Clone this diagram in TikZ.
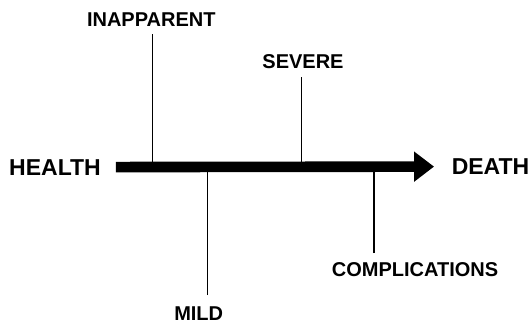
\documentclass[tikz,border=0pt]{standalone}
\usepackage{fontspec}
\setmainfont{Liberation Sans}
\usetikzlibrary{arrows.meta}
\begin{document}
\begin{tikzpicture}[x=1pt,y=-1pt,
  stage/.style={font=\fontsize{20}{24}\selectfont\bfseries, inner sep=0pt, anchor=base},
  endstate/.style={font=\fontsize{23}{27}\selectfont\bfseries, inner sep=0pt, anchor=base},
  course/.style={line width=10.6pt,
    -{Triangle[length=20pt,width=29pt]},
    shorten <=15pt, shorten >=17.5pt},
  tick/.style={line width=1.1pt}]
  \useasboundingbox (0,0) rectangle (529,324);

  % end states
  \node[endstate] (health) at (55,175) {HEALTH};
  \node[endstate] (death) at (490.5,174.5) {DEATH};

  % main course of the disease
  \draw[course] (health.east) -- (death.west);

  % stage labels
  \node[stage] (inap) at (151.3,26) {INAPPARENT};
  \node[stage] (severe) at (303,68.5) {SEVERE};
  \node[stage] (mild) at (198.7,320.5) {MILD};
  \node[stage] (compl) at (415,276) {COMPLICATIONS};

  % where the stage lines meet the arrow
  \coordinate (onInap) at (152.3,161.7);
  \coordinate (onSevere) at (301.5,161.7);
  \coordinate (onMild) at (207.3,172.3);
  \coordinate (onCompl) at (374,172.3);

  % free ends of the stage lines, near the labels
  \coordinate (endInap) at (152.3,34);
  \coordinate (endSevere) at (301.5,77);
  \coordinate (endMild) at (207.3,295);
  \coordinate (endCompl) at (374,253);

  \draw[tick] (endInap) -- (onInap);
  \draw[tick] (endSevere) -- (onSevere);
  \draw[tick] (endMild) -- (onMild);
  \draw[tick] (endCompl) -- (onCompl);
\end{tikzpicture}
\end{document}
